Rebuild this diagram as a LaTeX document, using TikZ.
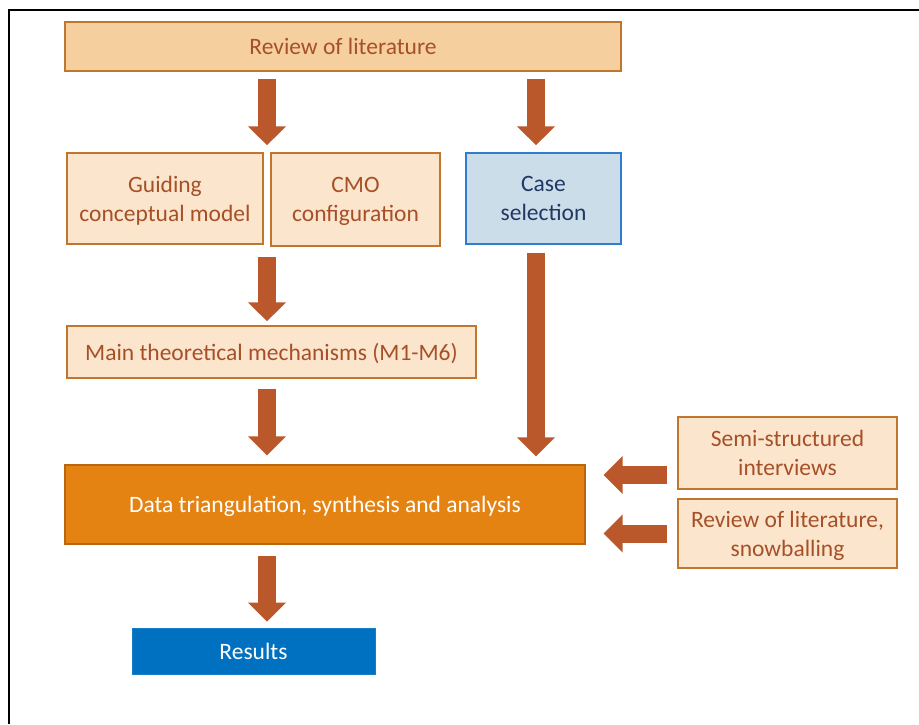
\documentclass[tikz,border=0pt]{standalone}
\usepackage{fontspec}
\setmainfont{Carlito}
\usetikzlibrary{arrows.meta,calc}
\definecolor{revfill}{HTML}{F6CF9F}
\definecolor{boxborder}{HTML}{C0762E}
\definecolor{txtbrown}{HTML}{A65028}
\definecolor{lightfill}{HTML}{FCE5CD}
\definecolor{casefill}{HTML}{CCDDEA}
\definecolor{caseborder}{HTML}{2E7DD0}
\definecolor{casetext}{HTML}{1F3864}
\definecolor{datafill}{HTML}{E48312}
\definecolor{databorder}{HTML}{B9670E}
\definecolor{resfill}{HTML}{0070C0}
\definecolor{arrowfill}{HTML}{BA582C}
\begin{document}
\begin{tikzpicture}[x=1pt,y=-1pt,
  every node/.style={font=\fontsize{23.5}{29}\selectfont, align=center, inner sep=0pt, text depth=-5pt},
  basebox/.style={draw=boxborder, line width=1.5pt, text=txtbrown},
  revbox/.style={basebox, fill=revfill},
  lightbox/.style={basebox, fill=lightfill},
  casebox/.style={draw=caseborder, line width=1.5pt, fill=casefill, text=casetext},
  databox/.style={draw=databorder, line width=1.2pt, fill=datafill, text=white},
  resbox/.style={draw=resfill!90!white, line width=0.8pt, fill=resfill, text=white},
  barrow/.style={draw=arrowfill, line width=18pt, -{Triangle[length=19pt,width=37pt]}}
]
\useasboundingbox (0,0) rectangle (919,724);
\draw[line width=2pt] (8.5,724) -- (8.5,10) -- (919,10);

\node[revbox, minimum width=556pt, minimum height=49pt] (review) at (343,46.5) {Review of literature};
\node[lightbox, minimum width=196pt, minimum height=91pt] (guiding) at (165,198.5) {Guiding\\conceptual model};
\node[lightbox, minimum width=169pt, minimum height=93pt] (cmo) at (355.5,199.5) {CMO\\configuration};
\node[casebox, minimum width=155pt, minimum height=91pt] (case) at (543.5,198.5) {Case\\selection};
\node[lightbox, minimum width=409pt, minimum height=52pt] (mech) at (271.5,352) {Main theoretical mechanisms (M1-M6)};
\node[databox, minimum width=520pt, minimum height=79pt] (data) at (325,504.5) {Data triangulation, synthesis and analysis};
\node[lightbox, minimum width=219pt, minimum height=72pt] (semi) at (787.5,453) {Semi-structured\\interviews};
\node[lightbox, minimum width=219pt, minimum height=69pt] (revsnow) at (787.5,533.5) {Review of literature,\\snowballing};
\node[resbox, minimum width=243pt, minimum height=46pt] (results) at (253.5,651) {Results};

\coordinate (g1) at ($(guiding.north east)!0.5!(cmo.north west)$);
\coordinate (c1) at ([xshift=-7.5pt]case.north);
\coordinate (d1) at ([yshift=29.5pt]data.east);
\coordinate (d2) at ([yshift=-29pt]data.east);

\draw[barrow, shorten <=7pt, shorten >=7pt] (review.south -| g1) -- (g1);
\draw[barrow, shorten <=7pt, shorten >=7pt] (review.south -| c1) -- (c1);
\draw[barrow, shorten <=12pt, shorten >=4pt] (g1 |- guiding.south) -- (g1 |- mech.north);
\draw[barrow, shorten <=10pt, shorten >=9pt] (g1 |- mech.south) -- (g1 |- data.north);
\draw[barrow, shorten <=8pt, shorten >=8pt] (c1 |- case.south) -- (c1 |- data.north);
\draw[barrow, shorten <=11pt, shorten >=6pt] (g1 |- data.south) -- (g1 |- results.north);
\draw[barrow, shorten <=10pt, shorten >=18pt] (d1 -| semi.west) -- (d1);
\draw[barrow, shorten <=10pt, shorten >=18pt] (d2 -| revsnow.west) -- (d2);
\end{tikzpicture}
\end{document}
